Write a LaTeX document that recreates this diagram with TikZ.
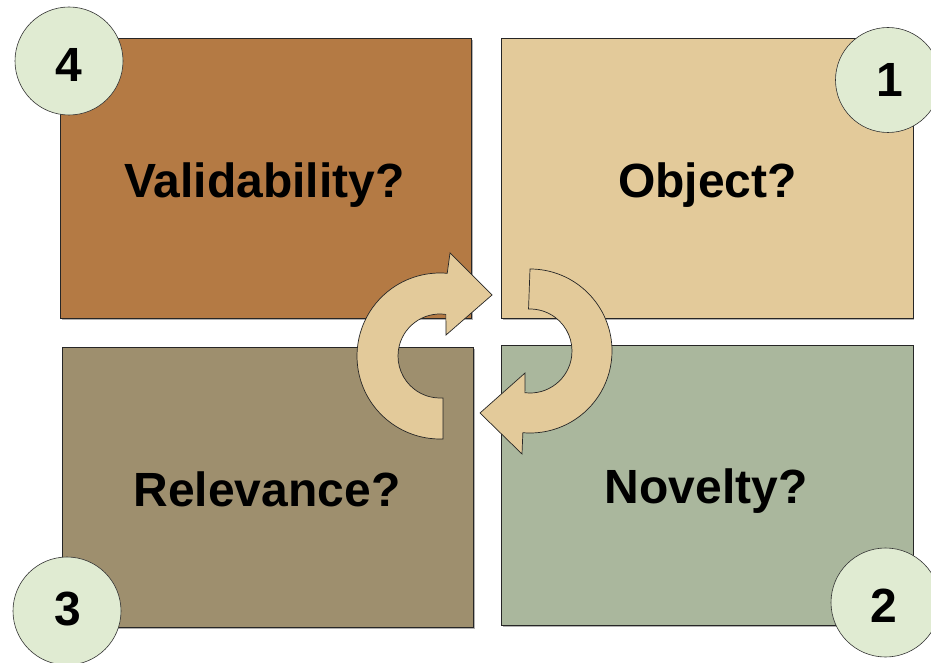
\documentclass[tikz,border=0pt]{standalone}
\usepackage{fontspec}
\setmainfont{Liberation Sans}
\begin{document}
\begin{tikzpicture}[x=1pt,y=-1pt,
  quad/.style={draw=black!85, line width=0.8pt, inner sep=0pt, minimum width=411pt, minimum height=280pt},
  shadowbox/.style={fill=black!30, draw=none, inner sep=0pt, minimum width=411pt, minimum height=280pt},
  numcirc/.style={circle, draw=black!80, line width=0.6pt, fill=circfill, inner sep=0pt, minimum size=108pt},
  lbl/.style={font=\fontsize{48}{56}\selectfont\bfseries, anchor=base, inner sep=0pt},
  turn/.style={draw=black!85, line width=0.7pt, fill=arrowfill, line join=miter}]
\definecolor{valfill}{HTML}{B47A44}
\definecolor{objfill}{HTML}{E3CA9A}
\definecolor{relfill}{HTML}{9E8F6E}
\definecolor{novfill}{HTML}{AAB79D}
\definecolor{circfill}{HTML}{E0EBD2}
\definecolor{arrowfill}{HTML}{E3CA9A}
\useasboundingbox (0,0) rectangle (931,663);
\fill[white] (0,0) rectangle (931,663);
% shadows
\node[shadowbox] at (267,180) {};
\node[shadowbox] at (708.5,180) {};
\node[shadowbox] at (269,489) {};
\node[shadowbox] at (708.5,487) {};
% quadrants
\node[quad, fill=valfill] (val) at (265.5,178) {};
\node[quad, fill=objfill, minimum width=412pt] (obj) at (707,178) {};
\node[quad, fill=relfill] (rel) at (267.5,487) {};
\node[quad, fill=novfill, minimum width=412pt] (nov) at (707,485) {};
% labels
\node[lbl] (tval) at (264.5,197) {Validability?};
\node[lbl] (tobj) at (707.5,197) {Object?};
\node[lbl] (trel) at (267,506) {Relevance?};
\node[lbl] (tnov) at (706,503) {Novelty?};
% curved arrows
\draw[turn] ([shift={(88:83)}]440,356) arc[start angle=88, end angle=275, radius=83]
  -- (450,253) -- (492,295) -- (446,335)
  -- ([shift={(278:42)}]440,356) arc[start angle=278, end angle=86, radius=42] -- cycle;
\draw[turn] ([shift={(270:82)}]530,351) arc[start angle=270, end angle=455, radius=82]
  -- (522,454) -- (480,413) -- (525,373)
  -- ([shift={(457:42)}]530,351) arc[start angle=457, end angle=268, radius=42] -- cycle;
% number circles
\node[numcirc] (c4) at (69,61) {};
\node[numcirc, minimum size=105pt] (c1) at (888,80) {};
\node[numcirc] (c3) at (67,611) {};
\node[numcirc, minimum size=109pt] (c2) at (885.5,602.5) {};
\node[lbl] (n4) at (68.5,82) {4};
\node[lbl] (n1) at (890,97) {1};
\node[lbl] (n3) at (67.5,625) {3};
\node[lbl] (n2) at (883.5,622) {2};
\end{tikzpicture}
\end{document}
